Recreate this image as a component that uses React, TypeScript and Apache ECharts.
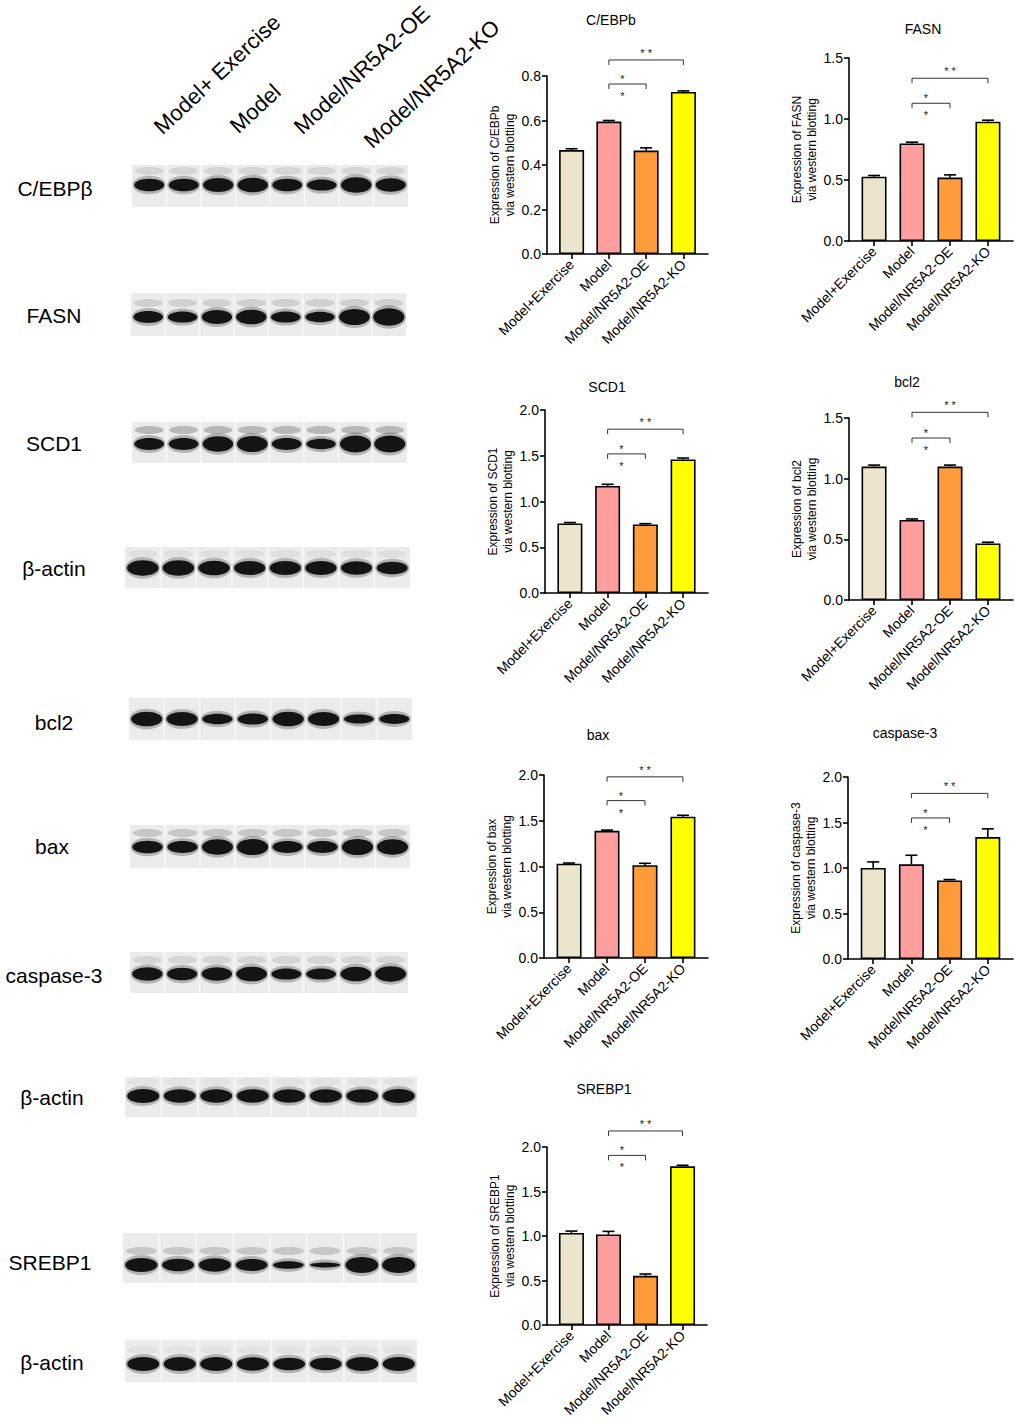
import { useEffect, useRef } from "react";
import * as echarts from "echarts";

const FONT = "'Liberation Sans', Arial, Helvetica, sans-serif";

// groups on the x axis of every bar chart
const groups = ["Model+Exercise", "Model", "Model/NR5A2-OE", "Model/NR5A2-KO"];
const groupColors = ["#ECE5CB", "#FF9E9E", "#FF9B3B", "#FFFF00"];

// mean expression and error
const cebpbValues = [0.467, 0.595, 0.465, 0.728];
const cebpbErrors = [0.006, 0.005, 0.012, 0.005];
const fasnValues = [0.527, 0.8, 0.52, 0.978];
const fasnErrors = [0.01, 0.01, 0.022, 0.012];
const scd1Values = [0.76, 1.17, 0.75, 1.46];
const scd1Errors = [0.01, 0.018, 0.008, 0.015];
const bcl2Values = [1.1, 0.66, 1.1, 0.466];
const bcl2Errors = [0.012, 0.008, 0.012, 0.01];
const baxValues = [1.03, 1.39, 1.015, 1.545];
const baxErrors = [0.008, 0.008, 0.02, 0.015];
const caspValues = [1.0, 1.04, 0.863, 1.34];
const caspErrors = [0.067, 0.1, 0.01, 0.09];
const srebpValues = [1.035, 1.017, 0.553, 1.783];
const srebpErrors = [0.02, 0.035, 0.02, 0.012];

// significance brackets: Model vs KO (upper), Model vs OE (lower)
const comparisons = [[1, 3], [1, 2]];
const comparisonMarks = ["* *", "*"];
const cebpbBrackets = [0.872, 0.764];
const fasnBrackets = [1.334, 1.129];
const scd1Brackets = [1.79, 1.52];
const bcl2Brackets = [1.547, 1.335];
const baxBrackets = [1.98, 1.72];
const caspBrackets = [1.82, 1.55];
const srebpBrackets = [2.18, 1.906];

// western blot lane labels and relative band strength (8 lanes)
const laneLabels = ["Model+ Exercise", "Model", "Model/NR5A2-OE", "Model/NR5A2-KO"];
const cebpbBands = [0.9, 0.9, 1.0, 1.05, 0.9, 0.8, 1.1, 0.95];
const fasnBands = [0.85, 0.8, 1.0, 1.05, 0.8, 0.75, 1.15, 1.25];
const scd1Bands = [0.85, 0.85, 1.1, 1.15, 0.85, 0.75, 1.2, 1.2];
const actinBands1 = [1.1, 1.1, 1.05, 1.0, 1.0, 1.0, 0.95, 0.9];
const bcl2Bands = [1.05, 1.0, 0.75, 0.8, 1.05, 1.0, 0.65, 0.7];
const baxBands = [0.9, 0.85, 1.1, 1.15, 0.85, 0.85, 1.15, 1.1];
const caspBands = [0.95, 0.9, 0.95, 1.05, 0.8, 0.8, 1.05, 1.1];
const actinBands2 = [1.0, 0.95, 0.95, 0.95, 0.95, 0.95, 0.95, 1.0];
const srebpBands = [1.0, 0.9, 0.95, 0.85, 0.55, 0.35, 1.15, 1.15];
const actinBands3 = [1.0, 1.0, 1.0, 0.95, 0.9, 0.9, 1.0, 1.0];

// layout of the bar chart panels: [left, top, width, height], title centre
const panels = [
  { title: "C/EBPb", values: cebpbValues, errors: cebpbErrors, brackets: cebpbBrackets, max: 0.8, step: 0.2, box: [547, 76, 161, 178], at: [611, 20] },
  { title: "FASN", values: fasnValues, errors: fasnErrors, brackets: fasnBrackets, max: 1.5, step: 0.5, box: [849, 58, 164, 183], at: [923, 29] },
  { title: "SCD1", values: scd1Values, errors: scd1Errors, brackets: scd1Brackets, max: 2.0, step: 0.5, box: [545, 410, 163, 183], at: [607, 387] },
  { title: "bcl2", values: bcl2Values, errors: bcl2Errors, brackets: bcl2Brackets, max: 1.5, step: 0.5, box: [849, 418, 164, 182], at: [907, 382] },
  { title: "bax", values: baxValues, errors: baxErrors, brackets: baxBrackets, max: 2.0, step: 0.5, box: [544, 775, 164, 183], at: [598, 735] },
  { title: "caspase-3", values: caspValues, errors: caspErrors, brackets: caspBrackets, max: 2.0, step: 0.5, box: [848, 777, 165, 182], at: [905, 733] },
  { title: "SREBP1", values: srebpValues, errors: srebpErrors, brackets: srebpBrackets, max: 2.0, step: 0.5, box: [547, 1147, 160, 178], at: [604, 1089] },
];

// layout of the blot strips
const blots = [
  { label: "C/EBPβ", lx: 55, ly: 188, x0: 132, x1: 408, y0: 165, y1: 207, band: 184, s: cebpbBands, ghost: 0.15 },
  { label: "FASN", lx: 54, ly: 315, x0: 131, x1: 406, y0: 293, y1: 336, band: 316, s: fasnBands, ghost: 0.18 },
  { label: "SCD1", lx: 54, ly: 443, x0: 132, x1: 407, y0: 422, y1: 463, band: 443, s: scd1Bands, ghost: 0.35 },
  { label: "β-actin", lx: 54, ly: 568, x0: 125, x1: 410, y0: 547, y1: 588, band: 567, s: actinBands1, ghost: 0.08 },
  { label: "bcl2", lx: 54, ly: 722, x0: 129, x1: 412, y0: 698, y1: 740, band: 718, s: bcl2Bands, ghost: 0 },
  { label: "bax", lx: 52, ly: 846, x0: 130, x1: 410, y0: 825, y1: 868, band: 846, s: baxBands, ghost: 0.25 },
  { label: "caspase-3", lx: 54, ly: 975, x0: 130, x1: 408, y0: 952, y1: 993, band: 973, s: caspBands, ghost: 0.15 },
  { label: "β-actin", lx: 52, ly: 1097, x0: 125, x1: 417, y0: 1077, y1: 1117, band: 1095, s: actinBands2, ghost: 0.06 },
  { label: "SREBP1", lx: 50, ly: 1262, x0: 123, x1: 417, y0: 1233, y1: 1283, band: 1264, s: srebpBands, ghost: 0.25 },
  { label: "β-actin", lx: 52, ly: 1362, x0: 125, x1: 417, y0: 1340, y1: 1382, band: 1363, s: actinBands3, ghost: 0.06 },
];
const laneLabelStarts = [[165, 138], [241, 137], [305, 138], [375, 152]];

function buildGraphic() {
  const els: any[] = [];
  panels.forEach((p) => {
    els.push({
      type: "text",
      x: p.at[0],
      y: p.at[1],
      style: { text: p.title, fontSize: 14, fontFamily: FONT, fill: "#000", align: "center", verticalAlign: "middle" },
    });
  });
  laneLabels.forEach((t, i) => {
    els.push({
      type: "text",
      x: laneLabelStarts[i][0],
      y: laneLabelStarts[i][1],
      rotation: (43 * Math.PI) / 180,
      style: { text: t, fontSize: 22, fontFamily: FONT, fill: "#000", align: "left", verticalAlign: "bottom" },
    });
  });
  blots.forEach((b) => {
    els.push({ type: "text", x: b.lx, y: b.ly, style: { text: b.label, fontSize: 21, fontFamily: FONT, fill: "#000", align: "center", verticalAlign: "middle" } });
    els.push({ type: "rect", shape: { x: b.x0, y: b.y0, width: b.x1 - b.x0, height: b.y1 - b.y0 }, style: { fill: "#ebebeb" } });
    const lw = (b.x1 - b.x0) / b.s.length;
    b.s.forEach((s, i) => {
      const cx = b.x0 + (i + 0.5) * lw;
      if (i > 0) {
        els.push({ type: "rect", shape: { x: b.x0 + i * lw - 1, y: b.y0, width: 2, height: b.y1 - b.y0 }, style: { fill: "#f5f5f5" } });
      }
      if (b.ghost > 0) {
        els.push({ type: "ellipse", shape: { cx, cy: b.band - 13, rx: lw * 0.42, ry: 4 }, style: { fill: `rgba(90,90,90,${b.ghost})` } });
      }
      els.push({ type: "ellipse", shape: { cx, cy: b.band + 1, rx: lw * 0.46 * (0.88 + 0.12 * s) + 1, ry: 7 * s + 3 }, style: { fill: "rgba(50,50,50,0.3)" } });
      els.push({ type: "ellipse", shape: { cx, cy: b.band + 1, rx: lw * 0.44 * (0.88 + 0.12 * s), ry: 7 * s }, style: { fill: "#141414" } });
    });
  });
  return els;
}

function buildOption() {
  const axisLine = { color: "#000", width: 1.6 };
  const ticks = groups.map((_, k) => k);
  const series: any[] = [];
  panels.forEach((p, i) => {
    series.push({
      type: "bar",
      xAxisIndex: i,
      yAxisIndex: i,
      barWidth: 25,
      itemStyle: { borderColor: "#000", borderWidth: 1.6 },
      data: p.values.map((v, k) => ({ value: [k, v], itemStyle: { color: groupColors[k] } })),
    });
    series.push({
      type: "custom",
      xAxisIndex: i,
      yAxisIndex: i,
      z: 3,
      encode: { x: 0, y: 1 },
      data: p.values.map((v, k) => [k, v, p.errors[k]]),
      renderItem: (_params: any, api: any) => {
        const base = api.coord([api.value(0), api.value(1)]);
        const top = api.coord([api.value(0), api.value(1) + api.value(2)]);
        const st = { stroke: "#000", lineWidth: 1.6 };
        return {
          type: "group",
          children: [
            { type: "line", shape: { x1: base[0], y1: base[1], x2: top[0], y2: top[1] }, style: st },
            { type: "line", shape: { x1: top[0] - 6, y1: top[1], x2: top[0] + 6, y2: top[1] }, style: st },
          ],
        };
      },
    });
    series.push({
      type: "custom",
      xAxisIndex: i,
      yAxisIndex: i,
      z: 3,
      encode: { x: [0, 1], y: 2 },
      data: comparisons.map((c, j) => [c[0], c[1], p.brackets[j], j]),
      renderItem: (_params: any, api: any) => {
        const a = api.coord([api.value(0), api.value(2)]);
        const b = api.coord([api.value(1), api.value(2)]);
        const mark = comparisonMarks[api.value(3)];
        const mid = (a[0] + b[0]) / 2;
        const ts = (t: string, x: number, y: number) => ({
          type: "text",
          x,
          y,
          style: { text: t, fontSize: 11, fontFamily: FONT, fill: "#222222", align: "center", verticalAlign: "middle" },
        });
        const children: any[] = [
          { type: "polyline", shape: { points: [[a[0], a[1] + 5], [a[0], a[1]], [b[0], b[1]], [b[0], b[1] + 5]] }, style: { stroke: "#333", lineWidth: 1, fill: "none" } },
        ];
        if (mark === "* *") {
          children.push(ts(mark, mid, a[1] - 7));
        } else {
          children.push(ts(mark, mid - 5, a[1] - 5));
          children.push(ts(mark, mid - 5, a[1] + 12));
        }
        return { type: "group", children };
      },
    });
  });

  return {
    animation: false,
    textStyle: { fontFamily: FONT },
    graphic: buildGraphic(),
    grid: panels.map((p) => ({ left: p.box[0], top: p.box[1], width: p.box[2], height: p.box[3] })),
    xAxis: panels.map((_, i) => ({
      gridIndex: i,
      type: "value",
      min: -0.66,
      max: 3.66,
      axisLine: { show: true, onZero: false, lineStyle: axisLine },
      axisTick: { show: true, customValues: ticks, length: 5, lineStyle: axisLine },
      axisLabel: {
        customValues: ticks,
        rotate: 45,
        fontSize: 14,
        color: "#000",
        margin: 8,
        formatter: (v: number) => groups[Math.round(v)] ?? "",
      },
      splitLine: { show: false },
    })),
    yAxis: panels.map((p, i) => ({
      gridIndex: i,
      type: "value",
      min: 0,
      max: p.max,
      interval: p.step,
      name: `Expression of ${p.title}\nvia western blotting`,
      nameLocation: "middle",
      nameGap: 28,
      nameTextStyle: { fontSize: 12, lineHeight: 15, color: "#000", align: "center" },
      axisLine: { show: true, onZero: false, lineStyle: axisLine },
      axisTick: { show: true, length: 5, lineStyle: axisLine },
      axisLabel: { fontSize: 14, color: "#000", margin: 6, formatter: (v: number) => v.toFixed(1) },
      splitLine: { show: false },
    })),
    series,
  };
}

export default function App() {
  const chartRef = useRef<HTMLDivElement>(null);

  useEffect(() => {
    if (!chartRef.current) return;
    const chart = echarts.init(chartRef.current, undefined, { renderer: "svg" });
    chart.setOption(buildOption() as any);
    return () => {
      chart.dispose();
    };
  }, []);

  return (
    <div
      ref={chartRef}
      style={{ position: "absolute", left: 0, top: 0, width: 1020, height: 1424, background: "#fff" }}
    />
  );
}
